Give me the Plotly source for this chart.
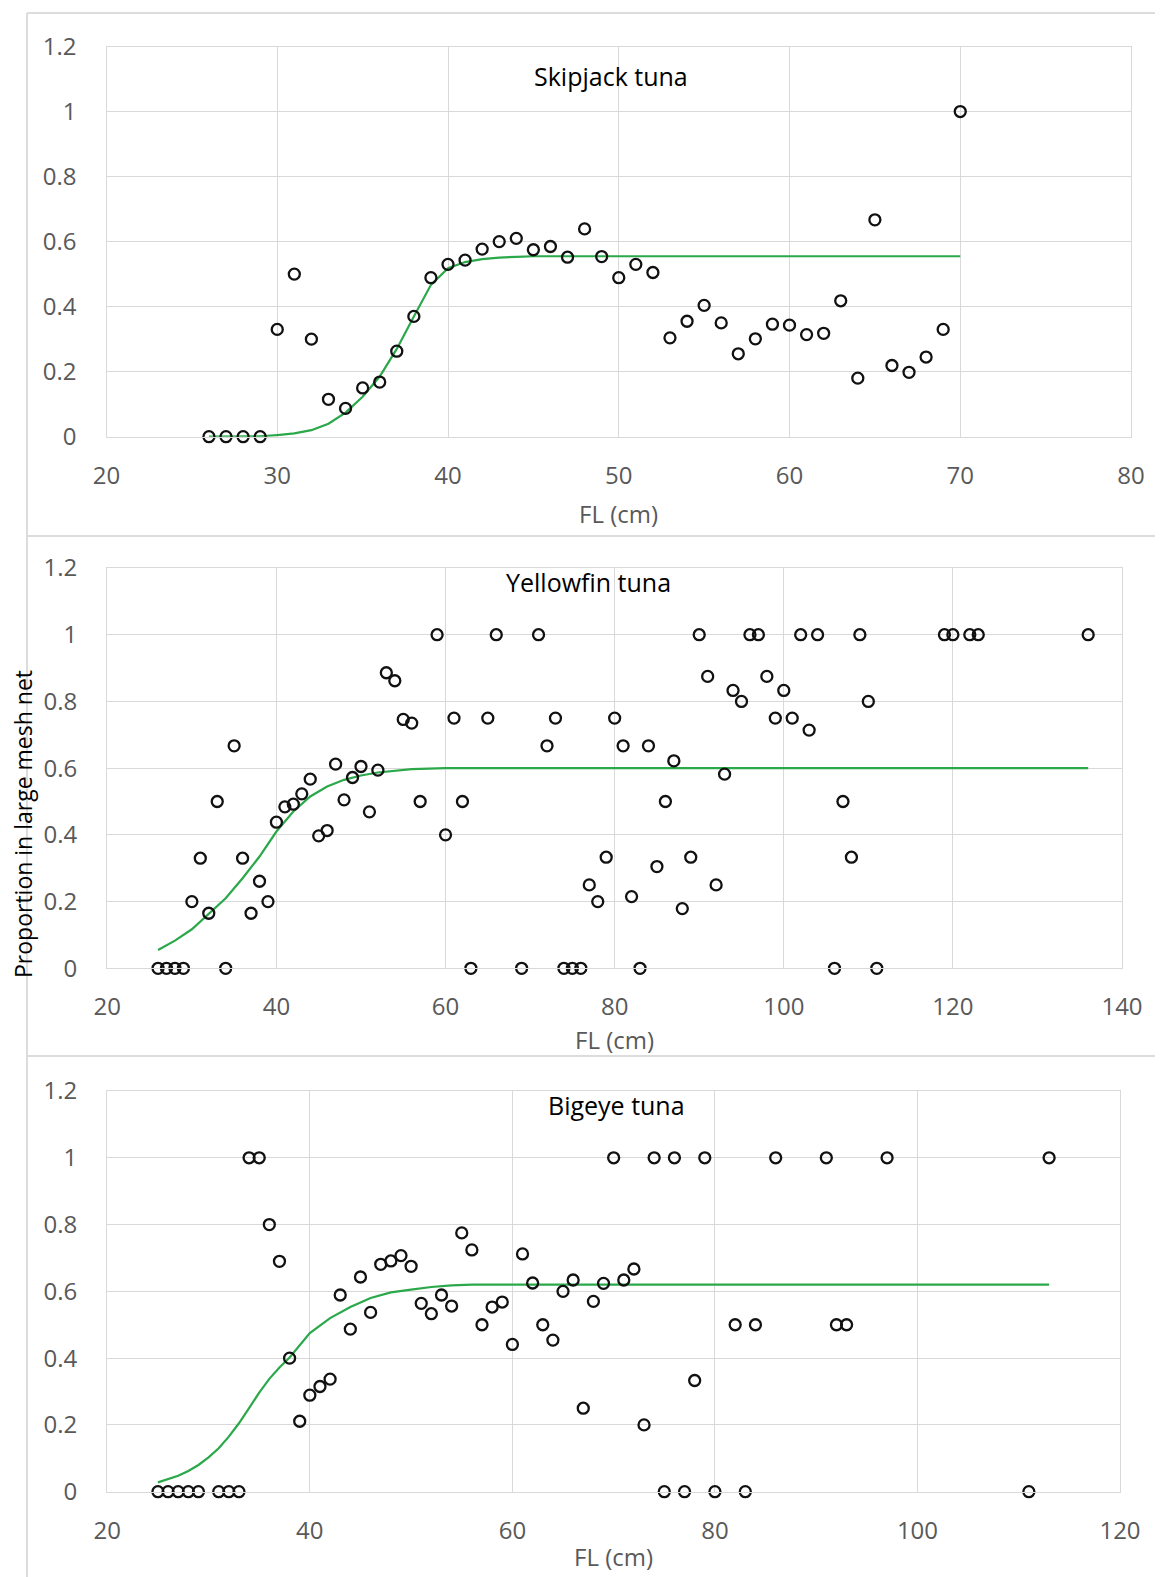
import plotly.graph_objects as go

# ---------------- data ----------------
# Skipjack tuna
skj_fl = [26, 27, 28, 29, 30, 31, 32, 33, 34, 35, 36, 37, 38, 39, 40, 41, 42, 43, 44, 45,
          46, 47, 48, 49, 50, 51, 52, 53, 54, 55, 56, 57, 58, 59, 60, 61, 62, 63, 64, 65,
          66, 67, 68, 69, 70]
skj_prop = [0, 0, 0, 0, 0.33, 0.5, 0.3, 0.115, 0.087, 0.15, 0.168, 0.263, 0.37, 0.489, 0.53, 0.543, 0.577, 0.6, 0.61, 0.575,
            0.585, 0.552, 0.639, 0.554, 0.489, 0.53, 0.505, 0.304, 0.355, 0.404, 0.35, 0.255, 0.301, 0.346, 0.343, 0.314, 0.318, 0.418, 0.18, 0.667,
            0.219, 0.198, 0.245, 0.33, 1.0]
skj_fit_fl = [26, 27, 28, 29, 30, 31, 32, 33, 34, 35, 36, 37, 38, 39, 40, 41, 42, 43, 44, 45, 70]
skj_fit = [0.0, 0.0, 0.0, 0.001, 0.005, 0.01, 0.02, 0.04, 0.074, 0.123, 0.185, 0.27, 0.37, 0.467, 0.518,
           0.537, 0.546, 0.551, 0.553, 0.555, 0.555]

# Yellowfin tuna
yft_fl = [26, 27, 28, 29, 30, 31, 32, 33, 34, 35, 36, 37, 38, 39, 40, 41, 42, 43, 44, 45,
          46, 47, 48, 49, 50, 51, 52, 53, 54, 55, 56, 57, 59, 60, 61, 62, 63, 65, 66, 69,
          71, 72, 73, 74, 75, 76, 77, 78, 79, 80, 81, 82, 83, 84, 85, 86, 87, 88, 89, 90,
          91, 92, 93, 94, 95, 96, 97, 98, 99, 100, 101, 102, 103, 104, 106, 107, 108, 109, 110, 111,
          119, 120, 122, 123, 136]
yft_prop = [0, 0, 0, 0, 0.2, 0.33, 0.165, 0.5, 0, 0.667, 0.33, 0.165, 0.261, 0.2, 0.438, 0.484, 0.492, 0.523, 0.567, 0.397,
            0.413, 0.612, 0.505, 0.572, 0.605, 0.469, 0.594, 0.886, 0.862, 0.746, 0.735, 0.5, 1.0, 0.4, 0.75, 0.5, 0, 0.75, 1.0, 0,
            1.0, 0.667, 0.75, 0, 0, 0, 0.25, 0.2, 0.333, 0.75, 0.667, 0.215, 0, 0.667, 0.305, 0.5, 0.622, 0.179, 0.333, 1.0,
            0.875, 0.25, 0.582, 0.833, 0.8, 1.0, 1.0, 0.875, 0.75, 0.833, 0.75, 1.0, 0.714, 1.0, 0, 0.5, 0.333, 1.0, 0.8, 0,
            1.0, 1.0, 1.0, 1.0, 1.0]
yft_fit_fl = [26, 28, 30, 32, 34, 36, 38, 40, 42, 44, 46, 48, 50, 52, 54, 56, 60, 136]
yft_fit = [0.055, 0.083, 0.117, 0.163, 0.21, 0.27, 0.335, 0.41, 0.47, 0.515, 0.545, 0.565, 0.578, 0.587, 0.593, 0.597, 0.6, 0.6]

# Bigeye tuna
bet_fl = [25, 26, 27, 28, 29, 31, 32, 33, 34, 35, 36, 37, 38, 39, 40, 41, 42, 43, 44, 45,
          46, 47, 48, 49, 50, 51, 52, 53, 54, 55, 56, 57, 58, 59, 60, 61, 62, 63, 64, 65,
          66, 67, 68, 69, 70, 71, 72, 73, 74, 75, 76, 77, 78, 79, 80, 82, 83, 84, 86, 91,
          92, 93, 97, 111, 113]
bet_prop = [0, 0, 0, 0, 0, 0, 0, 0, 1.0, 1.0, 0.8, 0.69, 0.4, 0.211, 0.289, 0.315, 0.337, 0.589, 0.487, 0.643,
            0.537, 0.681, 0.691, 0.707, 0.675, 0.564, 0.533, 0.589, 0.556, 0.775, 0.724, 0.5, 0.553, 0.568, 0.441, 0.712, 0.625, 0.5, 0.454, 0.6,
            0.634, 0.25, 0.57, 0.624, 1.0, 0.634, 0.667, 0.2, 1.0, 0, 1.0, 0, 0.333, 1.0, 0, 0.5, 0, 0.5, 1.0, 1.0,
            0.5, 0.5, 1.0, 0, 1.0]
bet_fit_fl = [25, 26, 27, 28, 29, 30, 31, 32, 33, 34, 35, 36, 37, 38, 39, 40, 42, 44, 46, 48, 50, 52, 54, 56, 113]
bet_fit = [0.028, 0.037, 0.048, 0.062, 0.08, 0.103, 0.13, 0.165, 0.205, 0.25, 0.297, 0.338, 0.372, 0.402, 0.44, 0.475,
           0.52, 0.553, 0.58, 0.597, 0.605, 0.613, 0.618, 0.62, 0.62]

x_ranges = [[20, 80], [20, 140], [20, 120]]
x_dticks = [10, 20, 20]
titles = ["Skipjack tuna", "Yellowfin tuna", "Bigeye tuna"]
y_ticks = [0, 0.2, 0.4, 0.6, 0.8, 1.0, 1.2]
y_ticklabels = ["0", "0.2", "0.4", "0.6", "0.8", "1", "1.2"]

# ---------------- layout helpers (pixel geometry) ----------------
OFF = 8  # default page body margin
W, H = 1163 - OFF, 1577 - OFF
FONT = "Open Sans"
GRID = "#d9d9d9"
TICKC = "#595959"
GREEN = "#2aa84a"

def px_x(p):
    return (p - OFF) / W

def px_y(p):
    return 1 - (p - OFF) / H

# plot areas in window pixels: (left, right, top(1.2), bottom(0))
areas = [(106.5, 1131, 46.5, 436.7),
         (107.3, 1122, 568.0, 968.3),
         (107.3, 1120, 1091.0, 1491.7)]

fig = go.Figure()

series = [(skj_fl, skj_prop, skj_fit_fl, skj_fit),
          (yft_fl, yft_prop, yft_fit_fl, yft_fit),
          (bet_fl, bet_prop, bet_fit_fl, bet_fit)]

for i, (fl, pr, ffl, ff) in enumerate(series):
    sfx = "" if i == 0 else str(i + 1)
    fig.add_trace(go.Scatter(x=ffl, y=ff, mode="lines",
                             line=dict(color=GREEN, width=2.2),
                             xaxis="x" + sfx, yaxis="y" + sfx, showlegend=False,
                             hoverinfo="skip"))
    fig.add_trace(go.Scatter(x=fl, y=pr, mode="markers", cliponaxis=False,
                             marker=dict(symbol="circle-open", size=11, color="#111111",
                                         line=dict(width=2.3, color="#111111")),
                             xaxis="x" + sfx, yaxis="y" + sfx, showlegend=False))

layout = dict(
    width=W, height=H,
    margin=dict(l=0, r=0, t=0, b=0),
    paper_bgcolor="white", plot_bgcolor="white",
    font=dict(family=FONT, size=24, color=TICKC),
    annotations=[], shapes=[],
)

title_pos = [(611, 76), (588, 582), (616, 1105)]
xtitle_y = [513, 1039, 1556]

for i in range(3):
    l, r, t, b = areas[i]
    sfx = "" if i == 0 else str(i + 1)
    layout["xaxis" + sfx] = dict(
        domain=[px_x(l), px_x(r)], range=x_ranges[i], dtick=x_dticks[i], tick0=0,
        anchor="y" + sfx, showgrid=True, gridcolor=GRID, gridwidth=1.3,
        showline=True, linecolor=GRID, linewidth=1.3, mirror=True,
        zeroline=False, ticks="outside", ticklen=17, tickcolor="rgba(0,0,0,0)",
        tickfont=dict(family=FONT, size=24, color=TICKC), automargin=False, fixedrange=True,
    )
    layout["yaxis" + sfx] = dict(
        domain=[px_y(b), px_y(t)], range=[0, 1.2], tickvals=y_ticks, ticktext=y_ticklabels,
        anchor="x" + sfx, showgrid=True, gridcolor=GRID, gridwidth=1.3,
        showline=True, linecolor=GRID, linewidth=1.3, mirror=True,
        zeroline=False, ticks="outside", ticklen=24, tickcolor="rgba(0,0,0,0)",
        tickfont=dict(family=FONT, size=24, color=TICKC), automargin=False, fixedrange=True,
    )
    tx, ty = title_pos[i]
    layout["annotations"].append(dict(
        text=titles[i], x=px_x(tx), y=px_y(ty), xref="paper", yref="paper",
        xanchor="center", yanchor="middle", showarrow=False,
        font=dict(family=FONT, size=25, color="black")))
    layout["annotations"].append(dict(
        text="FL (cm)", x=px_x((l + r) / 2), y=px_y(xtitle_y[i]), xref="paper", yref="paper",
        xanchor="center", yanchor="middle", showarrow=False,
        font=dict(family=FONT, size=24, color=TICKC)))

layout["annotations"].append(dict(
    text="Proportion in large mesh net", x=px_x(23), y=px_y(824), xref="paper", yref="paper",
    xanchor="center", yanchor="middle", showarrow=False, textangle=-90,
    font=dict(family=FONT, size=23, color="black")))

# chart-area frames
frame = dict(type="line", xref="paper", yref="paper", line=dict(color="#dcdcdc", width=2))
layout["shapes"] += [
    dict(frame, x0=px_x(27), x1=1, y0=px_y(13), y1=px_y(13)),
    dict(frame, x0=px_x(27), x1=px_x(27), y0=px_y(13), y1=0),
    dict(frame, x0=px_x(27), x1=1, y0=px_y(536), y1=px_y(536)),
    dict(frame, x0=px_x(27), x1=1, y0=px_y(1056), y1=px_y(1056)),
]

fig.update_layout(**layout)
fig.write_html("out.html")
